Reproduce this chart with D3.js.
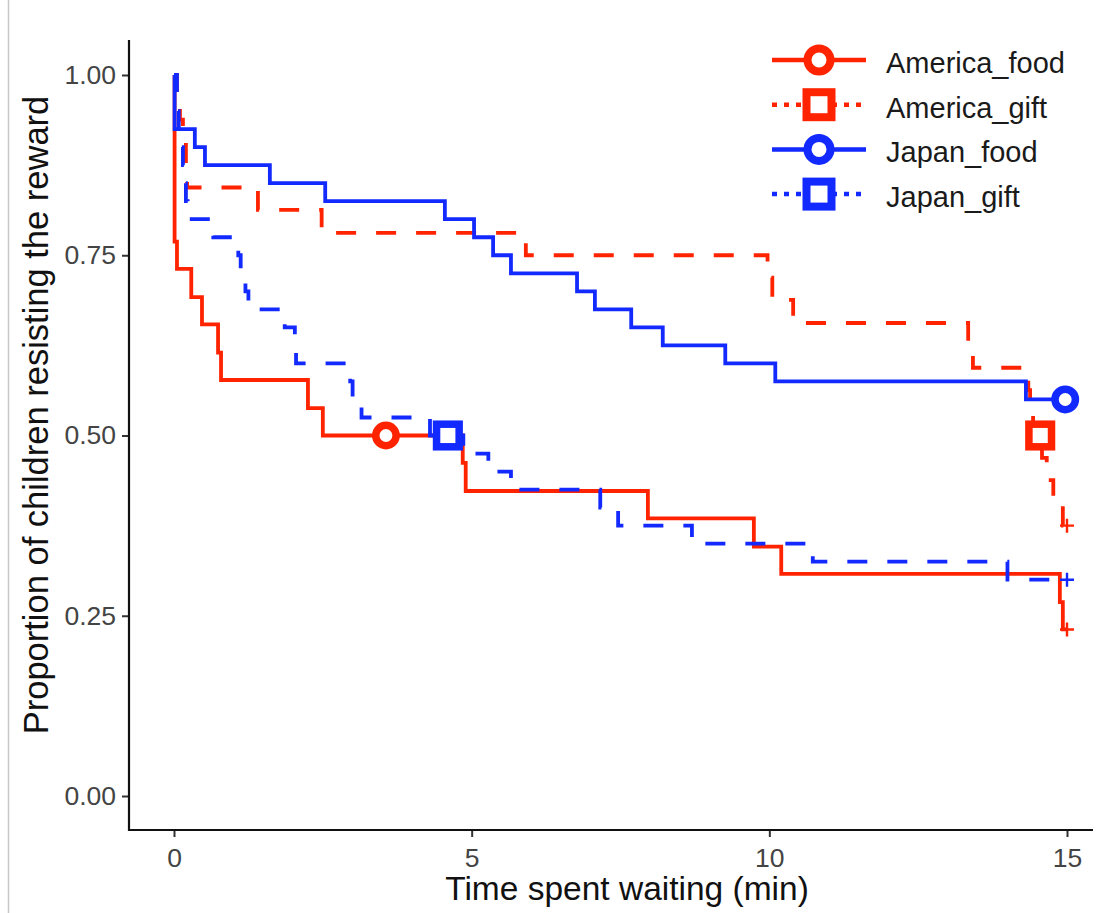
<!DOCTYPE html>
<html>
<head>
<meta charset="utf-8">
<script src="https://cdn.jsdelivr.net/npm/d3@7"></script>
<style>
  body { margin: 0; background: #fff; }
  svg { display: block; font-family: "Liberation Sans", Arial, Helvetica, sans-serif; }
</style>
</head>
<body>
<svg id="chart" width="1108" height="913"></svg>
<script>
// strata, in the order ggplot draws them
const groups = ["America_food", "America_gift", "Japan_food", "Japan_gift"];
const groupColors = ["#ff2300", "#ff2300", "#1229ff", "#1229ff"];
const groupDashed = [false, true, false, true];
const groupShape = ["circle", "square", "circle", "square"];

// Kaplan-Meier steps: time (min) and proportion still resisting
const americaFoodTime = [0, 0.01, 0.05, 0.29, 0.47, 0.74, 0.79, 2.25, 2.5, 4.85, 4.9, 7.96, 9.74, 10.2, 14.88, 14.93, 15];
const americaFoodSurv = [1, 0.769, 0.731, 0.692, 0.654, 0.615, 0.577, 0.538, 0.5, 0.462, 0.423, 0.385, 0.346, 0.308, 0.269, 0.231, 0.231];

const americaGiftTime = [0, 0.05, 0.1, 0.15, 0.2, 0.22, 1.41, 2.48, 5.91, 9.97, 10.05, 10.4, 13.34, 13.42, 14.35, 14.38, 14.43, 14.58, 14.66, 14.77, 14.93, 15];
const americaGiftSurv = [1, 0.969, 0.938, 0.906, 0.875, 0.844, 0.813, 0.781, 0.75, 0.719, 0.688, 0.656, 0.625, 0.594, 0.563, 0.531, 0.5, 0.469, 0.438, 0.406, 0.375, 0.375];

const japanFoodTime = [0, 0.01, 0.35, 0.52, 1.61, 2.54, 4.55, 5.04, 5.36, 5.66, 6.77, 7.07, 7.68, 8.21, 9.26, 10.1, 14.31, 15];
const japanFoodSurv = [1, 0.925, 0.9, 0.875, 0.85, 0.825, 0.8, 0.775, 0.75, 0.725, 0.7, 0.675, 0.65, 0.625, 0.6, 0.575, 0.55, 0.55];

const japanGiftTime = [0, 0.05, 0.08, 0.1, 0.15, 0.18, 0.2, 0.23, 0.66, 1.08, 1.12, 1.2, 1.25, 1.86, 2.03, 2.05, 2.96, 3.0, 3.15, 4.3, 4.86, 5.28, 5.66, 7.16, 7.46, 8.7, 10.73, 14.0, 15];
const japanGiftSurv = [1, 0.95, 0.925, 0.9, 0.875, 0.85, 0.825, 0.8, 0.775, 0.75, 0.725, 0.7, 0.675, 0.65, 0.625, 0.6, 0.575, 0.55, 0.525, 0.5, 0.475, 0.45, 0.425, 0.4, 0.375, 0.35, 0.325, 0.3, 0.3];

// median markers (Japan_food never reaches 0.5, so it sits at the end)
const markerTime = [3.56, 14.55, 14.97, 4.6];
const markerSurv = [0.5, 0.5, 0.55, 0.5];

// censored at the end of the session
const censorTime = [15, 15, 15, 15];
const censorSurv = [0.231, 0.375, 0.55, 0.3];

const xTicks = [0, 5, 10, 15];
const yTicks = [0, 0.25, 0.5, 0.75, 1];

const allTimes = [americaFoodTime, americaGiftTime, japanFoodTime, japanGiftTime];
const allSurv = [americaFoodSurv, americaGiftSurv, japanFoodSurv, japanGiftSurv];

const svg = d3.select("#chart");

// light border on the left edge of the picture
svg.append("line")
    .attr("x1", 8.5).attr("x2", 8.5)
    .attr("y1", 0).attr("y2", 913)
    .attr("stroke", "#c8c8c8")
    .attr("stroke-width", 1.5);

const x = d3.scaleLinear().domain([0, 15]).range([174, 1067]);
const y = d3.scaleLinear().domain([0, 1]).range([796, 75]);

const panelLeft = 129, panelBottom = 830, panelTop = 40, panelRight = 1093;

// y axis
const yAxis = svg.append("g")
    .attr("transform", `translate(${panelLeft},0)`)
    .call(d3.axisLeft(y).tickValues(yTicks).tickFormat(d3.format(".2f")).tickSize(7).tickPadding(6));
yAxis.select(".domain").remove();
yAxis.selectAll(".tick line").attr("stroke", "#333").attr("stroke-width", 2);
yAxis.selectAll(".tick text")
    .attr("font-size", 26.5)
    .attr("fill", "#444")
    .attr("font-family", null);

// x axis
const xAxis = svg.append("g")
    .attr("transform", `translate(0,${panelBottom})`)
    .call(d3.axisBottom(x).tickValues(xTicks).tickSize(7).tickPadding(11));
xAxis.select(".domain").remove();
xAxis.selectAll(".tick line").attr("stroke", "#333").attr("stroke-width", 2);
xAxis.selectAll(".tick text")
    .attr("font-size", 26.5)
    .attr("fill", "#444")
    .attr("font-family", null);

// axis lines
svg.append("line")
    .attr("x1", panelLeft).attr("x2", panelLeft)
    .attr("y1", panelTop).attr("y2", panelBottom + 1)
    .attr("stroke", "#111").attr("stroke-width", 2.2);
svg.append("line")
    .attr("x1", panelLeft - 1).attr("x2", panelRight)
    .attr("y1", panelBottom).attr("y2", panelBottom)
    .attr("stroke", "#111").attr("stroke-width", 2.2);

// axis titles
svg.append("text")
    .attr("x", 627).attr("y", 900)
    .attr("text-anchor", "middle")
    .attr("font-size", 33.5)
    .attr("fill", "#111")
    .text("Time spent waiting (min)");

svg.append("text")
    .attr("transform", "translate(48,415) rotate(-90)")
    .attr("text-anchor", "middle")
    .attr("font-size", 34.5)
    .attr("fill", "#111")
    .text("Proportion of children resisting the reward");

// survival curves
const line = d3.line()
    .x(d => x(d.t))
    .y(d => y(d.s))
    .curve(d3.curveStepAfter);

const series = groups.map((g, i) => ({
    name: g,
    color: groupColors[i],
    dashed: groupDashed[i],
    pts: d3.zip(allTimes[i], allSurv[i]).map(([t, s]) => ({ t, s }))
}));

svg.append("g").selectAll("path")
    .data(series)
    .join("path")
    .attr("d", d => line(d.pts))
    .attr("fill", "none")
    .attr("stroke", d => d.color)
    .attr("stroke-width", 3.8)
    .attr("stroke-dasharray", d => d.dashed ? "20,20" : null);

// censor marks
const censor = svg.append("g");
groups.forEach((g, i) => {
    const cx = x(censorTime[i]), cy = y(censorSurv[i]);
    censor.append("path")
        .attr("d", `M${cx - 7},${cy}H${cx + 7}M${cx},${cy - 7}V${cy + 7}`)
        .attr("stroke", groupColors[i])
        .attr("stroke-width", 2.4)
        .attr("fill", "none");
});

// draws a marker shape centred on cx, cy
function drawShape(sel, shape, cx, cy, size, sw, color) {
    if (shape === "circle") {
        sel.append("circle")
            .attr("cx", cx).attr("cy", cy).attr("r", size)
            .attr("fill", "#fff")
            .attr("stroke", color)
            .attr("stroke-width", sw);
    } else {
        sel.append("rect")
            .attr("x", cx - size).attr("y", cy - size)
            .attr("width", size * 2).attr("height", size * 2)
            .attr("fill", "#fff")
            .attr("stroke", color)
            .attr("stroke-width", sw);
    }
}

const markers = svg.append("g");
groups.forEach((g, i) => {
    const s = groupShape[i] === "circle" ? 10.2 : 11.3;
    drawShape(markers, groupShape[i], x(markerTime[i]), y(markerSurv[i]), s, 7.5, groupColors[i]);
});

// legend
const legend = svg.append("g");
groups.forEach((g, i) => {
    const ry = 60 + i * 44.7;
    legend.append("line")
        .attr("x1", 772).attr("x2", 866)
        .attr("y1", ry).attr("y2", ry)
        .attr("stroke", groupColors[i])
        .attr("stroke-width", 4.5)
        .attr("stroke-dasharray", groupDashed[i] ? "5,7" : null);
    const s = groupShape[i] === "circle" ? 11.5 : 12.5;
    drawShape(legend, groupShape[i], 819, ry, s, 8, groupColors[i]);
    legend.append("text")
        .attr("x", 886).attr("y", ry + 3)
        .attr("dominant-baseline", "central")
        .attr("font-size", 29)
        .attr("fill", "#1a1a1a")
        .text(g);
});
</script>
</body>
</html>
